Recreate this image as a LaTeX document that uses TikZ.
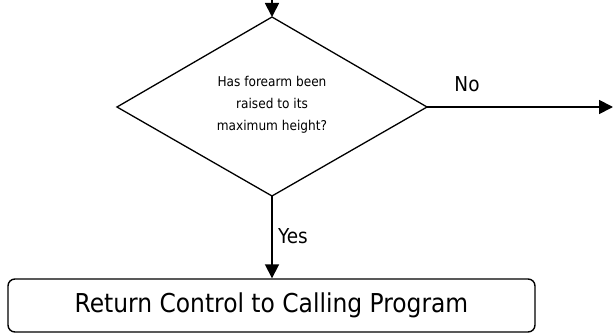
\documentclass[tikz,border=0pt]{standalone}
\usepackage{fontspec}
\setmainfont{DejaVu Sans Condensed}
\usetikzlibrary{arrows.meta}
\begin{document}
\begin{tikzpicture}[x=1pt,y=-1pt,
  flow/.style={line width=1.8pt,-{Triangle[width=14pt,length=14pt]}},
  lbl/.style={font=\fontsize{20.5}{24}\selectfont,inner sep=0pt}]
\useasboundingbox (0,0) rectangle (613,334);
% decision diamond
\coordinate (dt) at (272,17);
\coordinate (dl) at (117,107);
\coordinate (dr) at (427,107);
\coordinate (db) at (272,196);
\draw[line width=1.3pt,line join=miter] (dt) -- (dr) -- (db) -- (dl) -- cycle;
\node[align=center,font=\fontsize{13.5}{22}\selectfont,inner sep=0pt] (q) at (272,105)
  {Has forearm been\\raised to its\\maximum height?};
% process box
\node[draw,line width=1.4pt,rounded corners=7pt,minimum width=527pt,minimum height=53pt,
  inner sep=0pt,font=\fontsize{26}{30}\selectfont] (ret) at (271.5,305.5)
  {Return Control to Calling Program};
% connectors
\coordinate (in) at (272,0);
\coordinate (out) at (613,107);
\draw[flow] (in) -- (dt);
\draw[flow] (dr) -- (out);
\draw[flow] (db) -- (db |- ret.north);
\node[lbl,anchor=base] (no) at (467,92) {No};
\node[lbl,anchor=base west] (yes) at (278,243) {Yes};
\end{tikzpicture}
\end{document}
